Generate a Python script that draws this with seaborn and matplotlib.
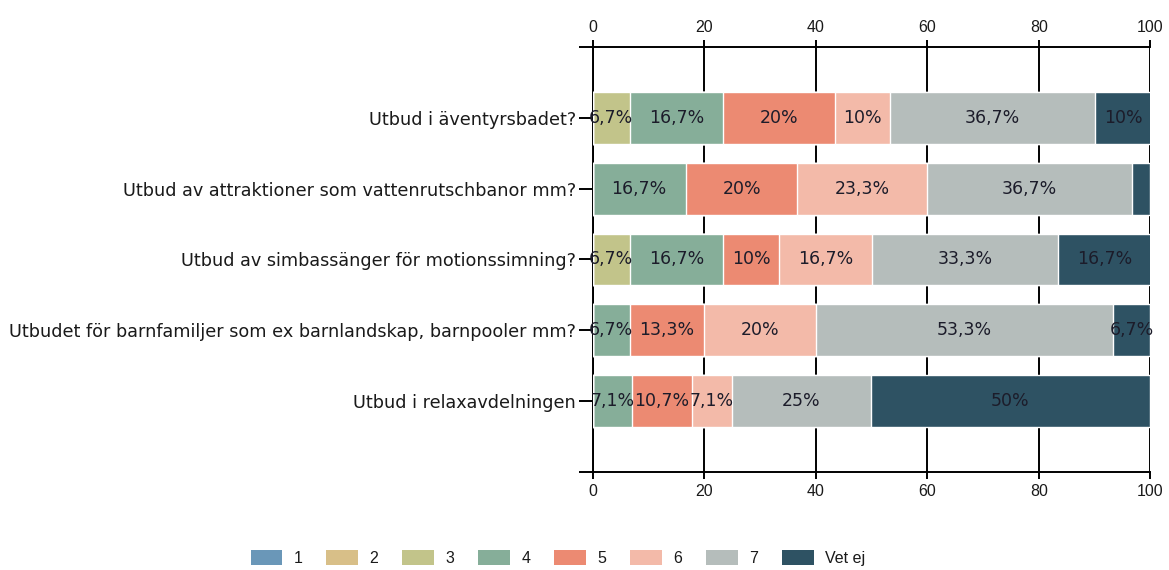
import matplotlib
matplotlib.use("Agg")
from matplotlib import pyplot as plt
from matplotlib.patches import Patch
import pandas as pd
import seaborn as sns
import numpy as np

# questions (top to bottom)
questions = [
    "Utbud i äventyrsbadet?",
    "Utbud av attraktioner som vattenrutschbanor mm?",
    "Utbud av simbassänger för motionssimning?",
    "Utbudet för barnfamiljer som ex barnlandskap, barnpooler mm?",
    "Utbud i relaxavdelningen",
]
answers = ["1", "2", "3", "4", "5", "6", "7", "Vet ej"]

# percent per answer, one list per answer (same order as questions)
p1 = [0, 0, 0, 0, 0]
p2 = [0, 0, 0, 0, 0]
p3 = [6.7, 0, 6.7, 0, 0]
p4 = [16.7, 16.7, 16.7, 6.7, 7.1]
p5 = [20, 20, 10, 13.3, 10.7]
p6 = [10, 23.3, 16.7, 20, 7.1]
p7 = [36.7, 36.7, 33.3, 53.3, 25]
p_vet = [10, 3.3, 16.7, 6.7, 50]

colors = ["#6a97b8", "#d8bf88", "#c2c48a", "#86ae99", "#ec8a72", "#f3baa9", "#b5bdbb", "#2e5263"]

df = pd.DataFrame({"fraga": questions, "1": p1, "2": p2, "3": p3, "4": p4,
                   "5": p5, "6": p6, "7": p7, "Vet ej": p_vet})
cum = df[answers].cumsum(axis=1)

sns.set_theme(style="white")
plt.rcParams["font.family"] = ["Liberation Sans", "DejaVu Sans"]
plt.rcParams["text.color"] = "#1a1a1a"
plt.rcParams["xtick.labelcolor"] = "#1a1a1a"
plt.rcParams["ytick.labelcolor"] = "#1a1a1a"
wide = ["DejaVu Sans"]  # wider face for question labels and segment labels

fig, ax = plt.subplots(figsize=(11.69, 5.70), dpi=100)
fig.subplots_adjust(left=0.507, right=0.984, top=0.9175, bottom=0.172)

# stacked bars: draw cumulative totals, longest first
for ans, col in reversed(list(zip(answers, colors))):
    sns.barplot(x=cum[ans], y=df["fraga"], color=col, width=0.73,
                orient="h", ax=ax, saturation=1, zorder=3)

# segment labels
for i in range(len(questions)):
    for ans in answers:
        v = df.loc[i, ans]
        if v >= 5:
            mid = cum.loc[i, ans] - v / 2
            ax.text(mid, i, "{:g}%".format(v).replace(".", ","), ha="center", va="center",
                    fontsize=12.5, family=wide, color="#1c1c2a", zorder=4)

ax.set_xlim(0, 100)
ax.set_ylim(4.95, -1)
ax.set_xticks(np.arange(0, 101, 20))
ax.set_yticks(range(-1, 6))
ax.set_yticklabels([""] + questions + [""], family=wide, fontsize=12.7)
ax.set_xlabel("")
ax.set_ylabel("")
ax.xaxis.grid(True, color="black", linewidth=1.4, zorder=0)
ax.set_axisbelow(True)
ax.tick_params(axis="x", top=True, labeltop=True, bottom=True, labelbottom=True,
               length=5, width=1.4, color="black", labelsize=11.5, pad=4)
ax.tick_params(axis="y", left=True, length=10, width=1.4, color="black", pad=2)
for s in ["top", "bottom", "left"]:
    ax.spines[s].set_color("black")
    ax.spines[s].set_linewidth(1.4)
ax.spines["right"].set_visible(False)

handles = [Patch(facecolor=c, edgecolor="none", label=a) for a, c in zip(answers, colors)]
fig.legend(handles=handles, loc="center", bbox_to_anchor=(558 / 1169, 1 - 558 / 570),
           ncol=8, frameon=False, fontsize=11.5, handlelength=2.0, handleheight=1.05,
           handletextpad=0.7, columnspacing=1.5)

fig.savefig("out.png", dpi=100)
